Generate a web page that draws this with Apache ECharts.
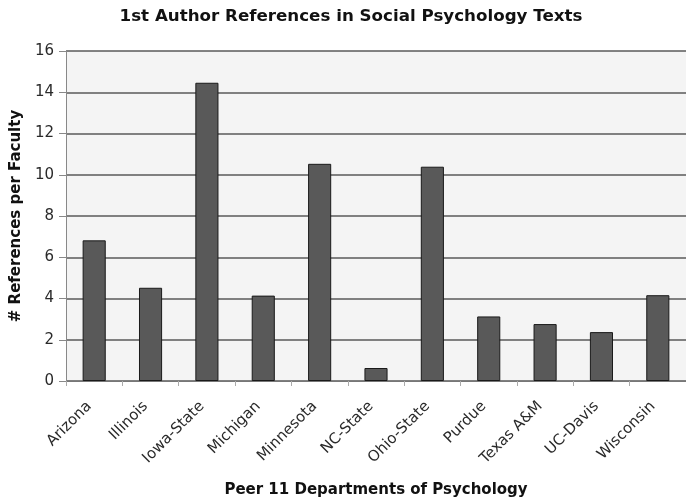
<!DOCTYPE html>
<html>
<head>
<meta charset="utf-8">
<script src="https://cdn.jsdelivr.net/npm/echarts@6/dist/echarts.min.js"></script>
<style>
html,body{margin:0;padding:0;background:#fff;}
#chart{width:686px;height:503px;}
</style>
</head>
<body>
<div id="chart"></div>
<script>
var categories = ['Arizona','Illinois','Iowa-State','Michigan','Minnesota','NC-State','Ohio-State','Purdue','Texas A&M','UC-Davis','Wisconsin'];
var refsPerFaculty = [6.82, 4.52, 14.46, 4.14, 10.53, 0.63, 10.39, 3.13, 2.76, 2.37, 4.16];
var yTicks = [0, 2, 4, 6, 8, 10, 12, 14, 16];

var chart = echarts.init(document.getElementById('chart'));
var font = 'DejaVu Sans, Verdana, sans-serif';
chart.setOption({
  animation: false,
  backgroundColor: '#ffffff',
  title: {
    text: '1st Author References in Social Psychology Texts',
    left: 346, top: 3, textAlign: 'center',
    textStyle: {fontFamily: font, fontSize: 16.7, fontWeight: 'bold', color: '#111'}
  },
  grid: {left: 66, top: 51, width: 626, height: 330, show: true, backgroundColor: '#f4f4f4', borderWidth: 0},
  xAxis: {
    type: 'category',
    data: categories,
    name: 'Peer 11 Departments of Psychology',
    nameLocation: 'middle',
    nameGap: 102,
    nameTextStyle: {fontFamily: font, fontSize: 15, fontWeight: 'bold', color: '#111'},
    axisLine: {lineStyle: {color: '#777', width: 1}},
    axisTick: {show: true, length: 5, lineStyle: {color: '#aaa'}, alignWithLabel: false},
    axisLabel: {interval: 0, rotate: 45, fontFamily: font, fontSize: 15, color: '#2a2a2a', margin: 18, padding: [0, 7, 0, 0]}
  },
  yAxis: {
    type: 'value',
    min: yTicks[0], max: yTicks[yTicks.length - 1], interval: 2,
    name: '# References per Faculty',
    nameLocation: 'middle',
    nameRotate: 90,
    nameGap: 41,
    nameTextStyle: {fontFamily: font, fontSize: 15, fontWeight: 'bold', color: '#111'},
    axisLine: {show: true, lineStyle: {color: '#888', width: 1}},
    axisTick: {show: true, length: 7, lineStyle: {color: '#888'}},
    axisLabel: {fontFamily: font, fontSize: 15, color: '#2a2a2a', margin: 12},
    splitLine: {show: true, lineStyle: {color: '#5a5a5a', width: 1.5}}
  },
  series: [{
    type: 'bar',
    data: refsPerFaculty,
    barWidth: '41%',
    itemStyle: {color: '#595959', borderColor: '#1a1a1a', borderWidth: 1}
  }]
});
</script>
</body>
</html>
